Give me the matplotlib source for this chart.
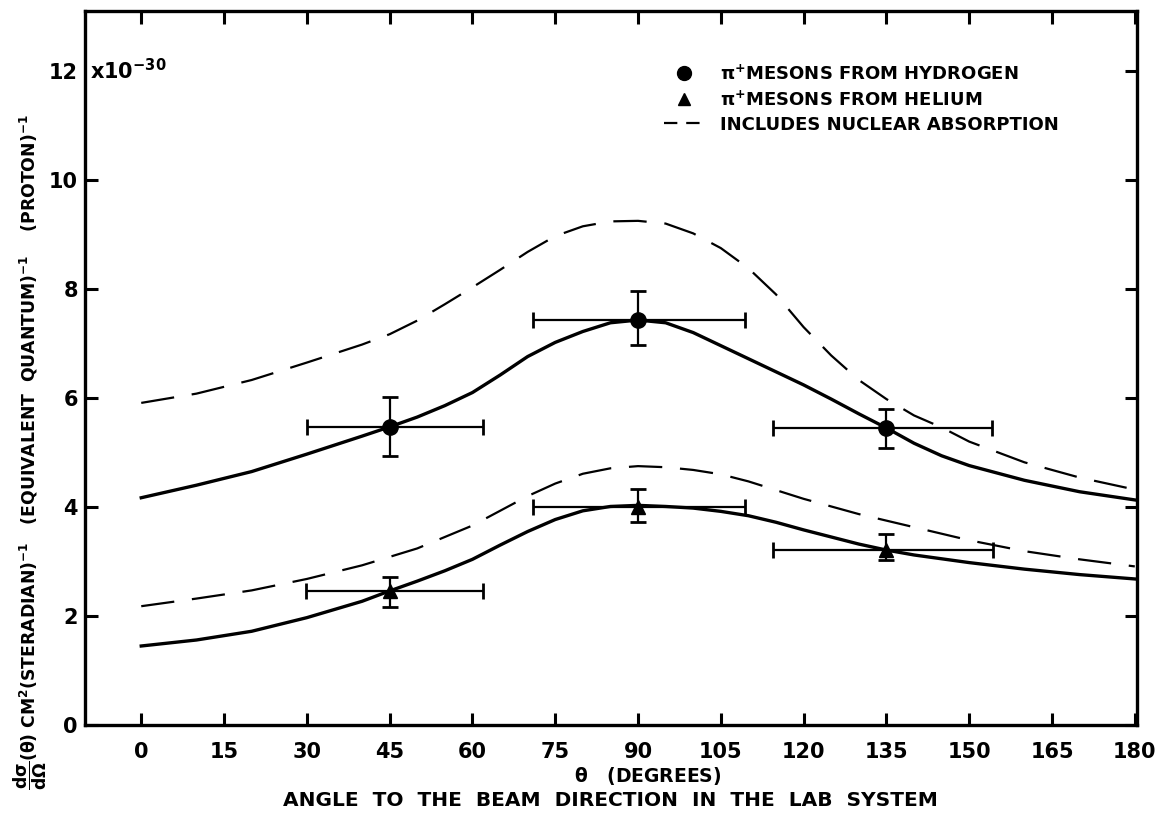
import numpy as np
import matplotlib.pyplot as plt
from matplotlib.lines import Line2D

plt.rcParams['font.family'] = ['DejaVu Sans']
plt.rcParams['font.weight'] = 'bold'
plt.rcParams['mathtext.default'] = 'bf'

# measured points (angle in degrees, cross section in units of 1e-30)
h_angle = [45, 90, 135]
h_sigma = [5.47, 7.43, 5.45]
h_xlo = [30.0, 71.0, 114.5]
h_xhi = [62.0, 109.3, 154.2]
h_ylo = [4.94, 6.97, 5.08]
h_yhi = [6.02, 7.96, 5.80]

he_angle = [45, 90, 135]
he_sigma = [2.46, 4.00, 3.21]
he_xlo = [29.8, 70.9, 114.4]
he_xhi = [62.0, 109.3, 154.3]
he_ylo = [2.17, 3.72, 3.03]
he_yhi = [2.72, 4.33, 3.50]

# curves
h_curve_x = [0, 10, 20, 25, 30, 40, 45, 50, 55, 60, 65, 70, 75, 80, 85, 90, 95,
             100, 105, 110, 115, 120, 125, 130, 135, 140, 145, 150, 160, 170, 180]
h_curve_y = [4.17, 4.40, 4.65, 4.81, 4.97, 5.30, 5.47, 5.65, 5.86, 6.10, 6.42, 6.76,
             7.02, 7.22, 7.38, 7.43, 7.38, 7.20, 6.96, 6.72, 6.48, 6.24, 5.98, 5.71,
             5.45, 5.17, 4.94, 4.76, 4.49, 4.28, 4.13]

hd_curve_x = [0, 10, 20, 30, 40, 45, 50, 55, 60, 65, 70, 75, 80, 85, 90, 95, 100,
              105, 110, 115, 120, 125, 130, 135, 140, 145, 150, 160, 170, 180]
hd_curve_y = [5.91, 6.08, 6.33, 6.65, 6.98, 7.17, 7.42, 7.72, 8.03, 8.35, 8.68, 8.97,
              9.15, 9.24, 9.25, 9.20, 9.02, 8.75, 8.38, 7.90, 7.30, 6.78, 6.33, 5.98,
              5.68, 5.46, 5.20, 4.82, 4.54, 4.32]

he_curve_x = [0, 10, 20, 30, 40, 45, 50, 55, 60, 65, 70, 75, 80, 85, 90, 95, 100,
              105, 110, 115, 120, 125, 130, 135, 140, 150, 160, 170, 180]
he_curve_y = [1.45, 1.56, 1.72, 1.97, 2.27, 2.46, 2.64, 2.83, 3.04, 3.30, 3.55, 3.77,
              3.93, 4.01, 4.03, 4.01, 3.98, 3.92, 3.84, 3.72, 3.58, 3.45, 3.32, 3.21,
              3.12, 2.98, 2.86, 2.76, 2.68]

hed_curve_x = [0, 10, 20, 30, 40, 50, 60, 65, 70, 75, 80, 85, 90, 95, 100, 105,
               110, 115, 120, 130, 140, 150, 160, 170, 180]
hed_curve_y = [2.18, 2.32, 2.47, 2.68, 2.93, 3.24, 3.66, 3.93, 4.20, 4.43, 4.61, 4.71,
               4.75, 4.73, 4.68, 4.60, 4.47, 4.31, 4.15, 3.87, 3.63, 3.39, 3.19, 3.04, 2.91]

x_ticks = [0, 15, 30, 45, 60, 75, 90, 105, 120, 135, 150, 165, 180]
y_ticks = [0, 2, 4, 6, 8, 10, 12]

fig = plt.figure(figsize=(11.62, 8.27), dpi=100)
ax = fig.add_axes([0.0731, 0.1233, 0.9054, 0.8634])

dash = dict(color='black', lw=1.6, dashes=(15, 8), solid_joinstyle='round')
ax.plot(h_curve_x, h_curve_y, color='black', lw=2.4, solid_joinstyle='round')
ax.plot(he_curve_x, he_curve_y, color='black', lw=2.4, solid_joinstyle='round')
ax.plot(hd_curve_x, hd_curve_y, **dash)
ax.plot(hed_curve_x, hed_curve_y, **dash)

def bars(x, y, xlo, xhi, ylo, yhi, marker, ms):
    x = np.array(x); y = np.array(y)
    xerr = [x - np.array(xlo), np.array(xhi) - x]
    yerr = [y - np.array(ylo), np.array(yhi) - y]
    ax.errorbar(x, y, xerr=xerr, yerr=yerr, fmt=marker, color='black', ms=ms,
                elinewidth=1.6, capsize=6, capthick=2, zorder=5)

bars(h_angle, h_sigma, h_xlo, h_xhi, h_ylo, h_yhi, 'o', 11)
bars(he_angle, he_sigma, he_xlo, he_xhi, he_ylo, he_yhi, '^', 10)

ax.set_xlim(-10.2, 180.4)
ax.set_ylim(0, 13.1)
ax.set_xticks(x_ticks)
ax.set_xticklabels([str(t) for t in x_ticks])
ax.set_yticks(y_ticks)
ax.set_yticklabels(['0', '2', '4', '6', '8', '10', '12'])
ax.tick_params(axis='both', direction='in', top=True, right=True, width=2.2,
               length=9, labelsize=15)
ax.tick_params(axis='x', pad=12)
ax.tick_params(axis='y', pad=5)
ax.yaxis.get_major_ticks()[-1].tick1line.set_visible(False)  # 12 has the x10 text
for s in ax.spines.values():
    s.set_linewidth(2.4)

ax.text(-9.2, 12, r'x10$^{-30}$', fontsize=15, va='center', ha='left')

handles = [Line2D([], [], marker='o', ls='none', color='black', ms=10),
           Line2D([], [], marker='^', ls='none', color='black', ms=9),
           Line2D([], [], color='black', lw=1.6, dashes=(6, 4))]
labels = [r'$\pi^{+}$MESONS FROM HYDROGEN',
          r'$\pi^{+}$MESONS FROM HELIUM',
          'INCLUDES NUCLEAR ABSORPTION']
ax.legend(handles, labels, loc='upper left', bbox_to_anchor=(0.535, 0.948),
          frameon=False, fontsize=13, handlelength=2.2, handletextpad=0.9,
          labelspacing=0.35)

fig.text(648 / 1162, 1 - 776 / 827, r'$\theta$   (DEGREES)', fontsize=13.5,
         ha='center', va='center')
fig.text(610 / 1162, 1 - 801 / 827,
         'ANGLE  TO  THE  BEAM  DIRECTION  IN  THE  LAB  SYSTEM', fontsize=14.5,
         ha='center', va='center')

fig.text(30 / 1162, 1 - 790 / 827,
         r'$\dfrac{d\sigma}{d\Omega}(\theta)$ CM$^{2}$(STERADIAN)$^{-1}$   '
         r'(EQUIVALENT  QUANTUM)$^{-1}$    (PROTON)$^{-1}$',
         fontsize=12.4, rotation=90, ha='center', va='bottom')

fig.savefig('out.png', dpi=100)
